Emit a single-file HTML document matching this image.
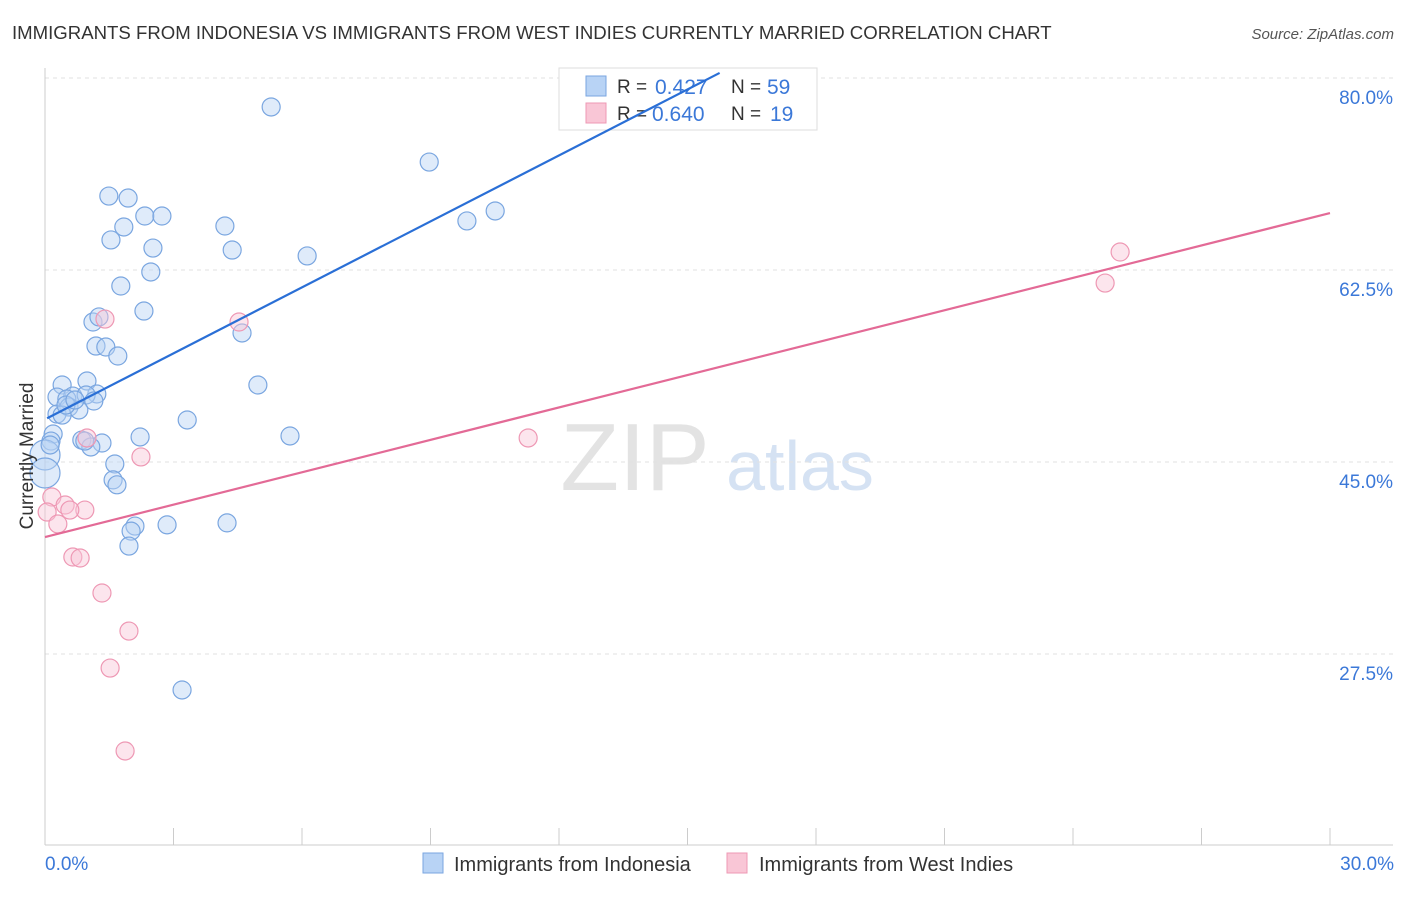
<!DOCTYPE html>
<html><head><meta charset="utf-8">
<style>
body{margin:0;background:#fff;font-family:"Liberation Sans",sans-serif;}
svg text{font-family:"Liberation Sans",sans-serif;}
</style></head>
<body>
<svg id="chart" width="1406" height="892" xmlns="http://www.w3.org/2000/svg">
<text x="12" y="39" font-size="18.6" fill="#333">IMMIGRANTS FROM INDONESIA VS IMMIGRANTS FROM WEST INDIES CURRENTLY MARRIED CORRELATION CHART</text>
<text x="1394" y="39" font-size="15" fill="#555" font-style="italic" text-anchor="end">Source: ZipAtlas.com</text>
<g>
<text x="635" y="490" font-size="96" fill="#e3e3e3" font-family="Liberation Serif" text-anchor="middle">ZIP</text>
<text x="800" y="490" font-size="70" fill="#d5e2f3" text-anchor="middle">atlas</text>
</g>
<g id="grid"></g>
<g id="axes"></g>
<g id="dots"></g>
<g>
<rect x="559" y="68" width="258" height="62" fill="#fff" stroke="#ddd"/>
<rect x="586" y="76" width="20" height="20" fill="#b8d3f5" stroke="#7aa6e0"/>
<rect x="586" y="103" width="20" height="20" fill="#f9c6d6" stroke="#ee98b4"/>
<text x="617" y="93" font-size="19" fill="#333">R =</text>
<text x="655" y="94" font-size="21" fill="#3b78d8">0.427</text>
<text x="731" y="93" font-size="19" fill="#333">N =</text>
<text x="767" y="94" font-size="21" fill="#3b78d8">59</text>
<text x="617" y="120" font-size="19" fill="#333">R =</text>
<text x="652" y="121" font-size="21" fill="#3b78d8">0.640</text>
<text x="731" y="120" font-size="19" fill="#333">N =</text>
<text x="770" y="121" font-size="21" fill="#3b78d8">19</text>
</g>
<g id="lines"></g>
<text x="33" y="456" font-size="19" fill="#333" text-anchor="middle" transform="rotate(-90 33 456)">Currently Married</text>
<text x="45" y="870" font-size="19" fill="#3b78d8">0.0%</text>
<text x="1394" y="870" font-size="19" fill="#3b78d8" text-anchor="end">30.0%</text>
<g>
<rect x="423" y="853" width="20" height="20" fill="#b8d3f5" stroke="#7aa6e0"/>
<text x="454" y="871" font-size="20" fill="#333">Immigrants from Indonesia</text>
<rect x="727" y="853" width="20" height="20" fill="#f9c6d6" stroke="#ee98b4"/>
<text x="759" y="871" font-size="20" fill="#333">Immigrants from West Indies</text>
</g>
</svg>
<script>
const yTicks=[80,62.5,45,27.5];
const yTickLabels=["80.0%","62.5%","45.0%","27.5%"];
const xTicks=[0,3,6,9,12,15,18,21,24,27,30];
const blueX=[5.28,8.97,1.49,1.94,2.33,2.73,1.84,4.20,1.54,2.52,4.37,6.12,2.47,1.77,2.31,1.12,1.26,4.60,1.19,1.42,1.70,0.40,0.98,4.97,0.28,0.65,1.21,0.96,0.51,1.14,0.56,0.79,0.28,0.40,3.32,0.19,0.14,2.22,5.72,0.86,1.33,1.07,0,0,1.63,1.59,1.68,2.10,2.01,2.85,4.25,1.96,3.20,9.85,10.51,0.49,0.70,0.12,0.93];
const blueY=[77.36,72.34,69.24,69.06,67.42,67.42,66.42,66.51,65.24,64.50,64.32,63.78,62.32,61.04,58.76,57.76,58.22,56.76,55.57,55.48,54.66,52.02,52.38,52.02,50.92,51.01,51.20,51.11,50.74,50.56,50.01,49.74,49.37,49.28,48.83,47.55,46.91,47.28,47.37,47.00,46.73,46.37,45.64,44.0,44.82,43.37,42.92,39.16,38.70,39.27,39.45,37.34,24.22,66.97,67.88,50.19,50.65,46.55,46.91];
const blueSize=blueX.map((v,i)=>(i===42||i===43)?15:9);
const pinkX=[1.40,4.53,25.10,24.75,11.28,0.98,2.24,0.16,0.47,0.93,0.58,0.05,0.30,0.65,0.82,1.33,1.96,1.52,1.87];
const pinkY=[58.03,57.76,64.14,61.31,47.19,47.19,45.46,41.81,41.08,40.62,40.62,40.44,39.35,36.34,36.25,33.06,29.59,26.22,18.66];
const blueTrend=[[0.05,48.99],[15.75,80.46]];
const pinkTrend=[[0,38.16],[30,67.69]];
const NS="http://www.w3.org/2000/svg";
const sx=v=>45+v*(1285/30);
const sy=v=>78+(80-v)*(192/17.5);
function mk(t,a,p){const e=document.createElementNS(NS,t);for(const k in a)e.setAttribute(k,a[k]);p.appendChild(e);return e;}
const grid=document.getElementById('grid'),axes=document.getElementById('axes'),lines=document.getElementById('lines'),dots=document.getElementById('dots');
yTicks.forEach((t,i)=>{
 const l=mk('line',{x1:45,x2:1393,y1:sy(t),y2:sy(t),stroke:'#e2e2e2','stroke-dasharray':'4,4'},grid);
 
 
 const tx=mk('text',{x:1393,y:sy(t)+26,'font-size':19,fill:'#3b78d8','text-anchor':'end'},grid);
 tx.textContent=yTickLabels[i];
 
 
});
const ya=mk('line',{x1:45,x2:45,y1:68,y2:845,stroke:'#ccc'},axes);


const xa=mk('line',{x1:45,x2:1393,y1:845,y2:845,stroke:'#ccc'},axes);


xTicks.forEach(t=>{
 const l=mk('line',{x1:sx(t),x2:sx(t),y1:828,y2:845,stroke:'#ccc'},axes);
 
 
});
function drawDots(X,Y,fill,stroke,name,sizes){
 X.forEach((x,i)=>{
  const c=mk('circle',{cx:sx(x),cy:sy(Y[i]),r:sizes?sizes[i]:9,fill:fill,stroke:stroke,'stroke-width':1.2,'fill-opacity':0.45},dots);
  
  
 });
}
drawDots(blueX,blueY,'#b8d3f5','#7aa6e0','indonesia-point',blueSize);
drawDots(pinkX,pinkY,'#f9c6d6','#ee98b4','west-indies-point',null);
const bl=mk('line',{x1:sx(blueTrend[0][0]),y1:sy(blueTrend[0][1]),x2:sx(blueTrend[1][0]),y2:sy(blueTrend[1][1]),stroke:'#2a6fd6','stroke-width':2.2},lines);


const pl=mk('line',{x1:sx(pinkTrend[0][0]),y1:sy(pinkTrend[0][1]),x2:sx(pinkTrend[1][0]),y2:sy(pinkTrend[1][1]),stroke:'#e36a96','stroke-width':2.2},lines);


</script>
</body></html>
